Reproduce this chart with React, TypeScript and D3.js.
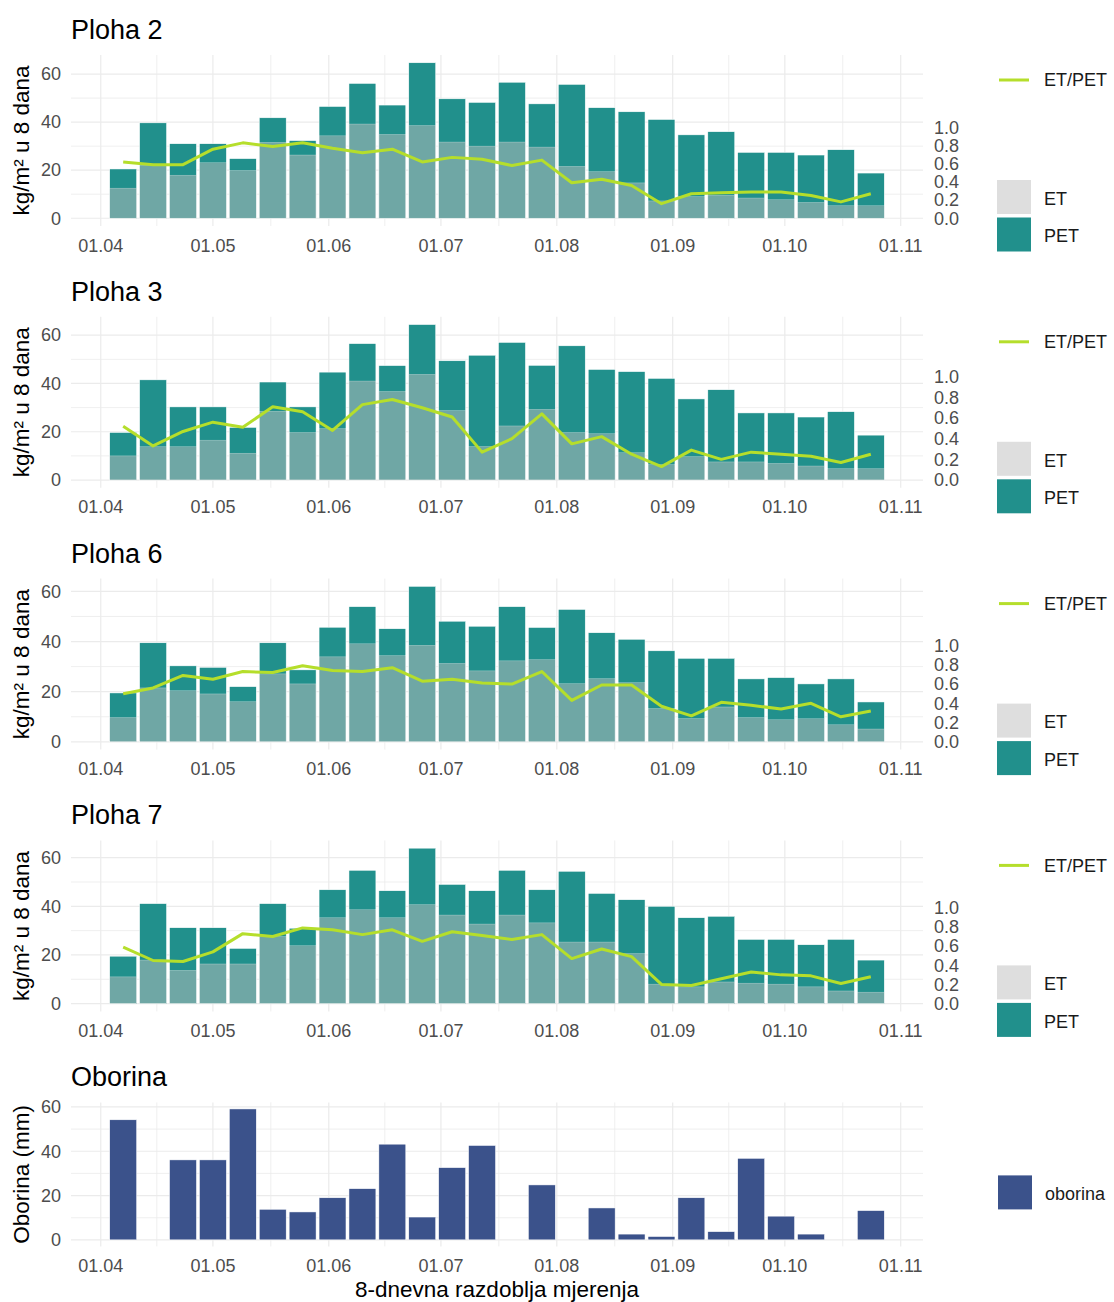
import React, { useEffect, useRef } from 'react'
import * as d3 from 'd3'

// 8-day measurement periods (start dates)
const periodDates = [
    '2021-04-07', '2021-04-15', '2021-04-23', '2021-05-01', '2021-05-09', '2021-05-17',
    '2021-05-25', '2021-06-02', '2021-06-10', '2021-06-18', '2021-06-26', '2021-07-04',
    '2021-07-12', '2021-07-20', '2021-07-28', '2021-08-05', '2021-08-13', '2021-08-21',
    '2021-08-29', '2021-09-06', '2021-09-14', '2021-09-22', '2021-09-30', '2021-10-08',
    '2021-10-16', '2021-10-24',
]

const ploha2Pet = [20.5, 39.7, 31.0, 31.0, 24.8, 41.8, 32.3, 46.5, 56.1, 47.1, 64.7, 49.7, 48.2, 56.6, 47.6, 55.7, 46.0, 44.3, 41.1, 34.7, 36.0, 27.4, 27.4, 26.3, 28.5, 18.8]
const ploha2Et = [12.5, 22.1, 17.9, 23.1, 19.9, 31.6, 26.3, 34.3, 39.2, 34.9, 38.6, 31.7, 30.0, 31.7, 29.6, 21.6, 19.4, 14.7, 7.2, 9.0, 9.6, 8.4, 7.7, 6.6, 5.2, 5.2]
const ploha2Ratio = [0.62, 0.59, 0.59, 0.76, 0.83, 0.79, 0.83, 0.77, 0.72, 0.76, 0.62, 0.67, 0.65, 0.58, 0.64, 0.39, 0.43, 0.36, 0.16, 0.27, 0.28, 0.29, 0.29, 0.25, 0.18, 0.27]

const ploha3Pet = [19.7, 41.5, 30.3, 30.3, 21.8, 40.6, 30.3, 44.7, 56.5, 47.4, 64.4, 49.4, 51.7, 57.0, 47.5, 55.6, 45.8, 44.9, 42.1, 33.6, 37.4, 27.8, 27.8, 26.1, 28.3, 18.6]
const ploha3Et = [10.0, 13.8, 13.8, 16.5, 11.1, 28.5, 19.7, 21.3, 41.0, 36.7, 43.8, 28.8, 13.9, 22.4, 29.3, 19.7, 19.2, 11.3, 6.4, 9.7, 7.5, 7.5, 6.9, 5.8, 4.7, 4.7]
const ploha3Ratio = [0.52, 0.33, 0.47, 0.56, 0.51, 0.71, 0.66, 0.48, 0.73, 0.78, 0.70, 0.61, 0.27, 0.40, 0.64, 0.35, 0.42, 0.25, 0.13, 0.29, 0.20, 0.27, 0.25, 0.23, 0.17, 0.25]

const ploha6Pet = [19.5, 39.5, 30.3, 29.7, 22.0, 39.5, 28.7, 45.7, 53.9, 45.1, 62.0, 48.1, 46.1, 53.9, 45.6, 52.8, 43.5, 40.9, 36.3, 33.3, 33.3, 25.1, 25.6, 23.1, 25.1, 15.9]
const ploha6Et = [9.7, 21.5, 20.4, 19.1, 16.0, 27.1, 23.1, 33.9, 39.1, 34.4, 38.5, 31.3, 28.3, 32.3, 32.8, 23.2, 25.2, 23.6, 13.3, 9.3, 13.9, 9.7, 8.8, 9.2, 6.8, 5.1]
const ploha6Ratio = [0.50, 0.56, 0.69, 0.65, 0.73, 0.72, 0.79, 0.74, 0.73, 0.77, 0.63, 0.65, 0.61, 0.60, 0.73, 0.43, 0.59, 0.59, 0.37, 0.27, 0.41, 0.38, 0.34, 0.40, 0.26, 0.32]

const ploha7Pet = [19.5, 41.1, 31.2, 31.2, 22.7, 41.1, 31.0, 46.8, 54.8, 46.4, 63.9, 49.0, 46.4, 54.8, 46.8, 54.4, 45.3, 42.7, 40.0, 35.3, 35.9, 26.4, 26.4, 24.2, 26.4, 17.9]
const ploha7Et = [11.0, 17.9, 13.7, 16.3, 16.3, 27.6, 23.8, 35.3, 38.6, 35.3, 40.7, 36.4, 32.7, 36.4, 33.2, 25.3, 25.3, 20.6, 8.0, 6.9, 8.9, 8.4, 8.0, 6.9, 5.2, 4.7]
const ploha7Ratio = [0.59, 0.45, 0.44, 0.54, 0.73, 0.70, 0.79, 0.77, 0.72, 0.77, 0.65, 0.75, 0.71, 0.67, 0.72, 0.47, 0.57, 0.49, 0.20, 0.19, 0.26, 0.33, 0.30, 0.29, 0.21, 0.28]

const oborina = [54.2, 0, 36.1, 36.1, 59.1, 13.8, 12.6, 19.0, 23.1, 43.2, 10.3, 32.6, 42.6, 0, 24.8, 0, 14.4, 2.6, 1.5, 19.0, 3.7, 36.8, 10.7, 2.6, 0, 13.2]

const yTicks = [0, 20, 40, 60]
const yMinorTicks = [10, 30, 50]
const ratioTicks = [0, 0.2, 0.4, 0.6, 0.8, 1.0]

// Ploha panels: title, series, and the factor of the secondary (ET/PET) axis
const plohe = [
    { title: 'Ploha 2', pet: ploha2Pet, et: ploha2Et, ratio: ploha2Ratio, k: 37.8 },
    { title: 'Ploha 3', pet: ploha3Pet, et: ploha3Et, ratio: ploha3Ratio, k: 42.8 },
    { title: 'Ploha 6', pet: ploha6Pet, et: ploha6Et, ratio: ploha6Ratio, k: 38.4 },
    { title: 'Ploha 7', pet: ploha7Pet, et: ploha7Et, ratio: ploha7Ratio, k: 39.4 },
]

const FONT = '"Liberation Sans", Arial, sans-serif'
const PET_COLOR = '#21908C'
const ET_COLOR = '#BEBEBE'
const LINE_COLOR = '#B5DE2B'
const OBORINA_COLOR = '#3B528B'
const GRID = '#EBEBEB'
const AXIS_TEXT = '#4D4D4D'

const svgWidth = 1114
const svgHeight = 1302
const left = 71
const right = 923
const panelHeight = 171
const panelStep = 261.8
const firstTop = 55

const DAY = 864e5

function App() {
    const ref = useRef(null)

    useEffect(() => {
        const svg = d3.select(ref.current)
        svg.selectAll('*').remove()

        const parse = d3.utcParse('%Y-%m-%d')
        const dates = periodDates.map(parse)
        const halfBar = 3.6 * DAY

        // date axis like ggplot: bar extents + 5% expansion
        const lo = +dates[0] - halfBar
        const hi = +dates[dates.length - 1] + halfBar
        const pad = (hi - lo) * 0.05
        const x = d3.scaleUtc().domain([lo - pad, hi + pad]).range([left, right])
        const barW = x(new Date(+dates[0] + 2 * halfBar)) - x(dates[0])

        const months = d3.utcMonth.range(new Date(Date.UTC(2021, 3, 1)), new Date(Date.UTC(2021, 10, 2)))
        const midMonths = months.slice(1).map((m, i) => new Date((+m + +months[i]) / 2))
        const fmt = d3.utcFormat('%d.%m')

        function drawPanel(top, height, values) {
            const max = d3.max(values)
            const y = d3.scaleLinear()
                .domain([-0.05 * max, 1.05 * max])
                .range([top + height, top])
            const g = svg.append('g')

            // grid
            g.selectAll('.hminor').data(yMinorTicks).enter().append('line')
                .attr('x1', left).attr('x2', right)
                .attr('y1', d => y(d)).attr('y2', d => y(d))
                .attr('stroke', GRID).attr('stroke-width', 0.8)
            g.selectAll('.vminor').data(midMonths).enter().append('line')
                .attr('x1', d => x(d)).attr('x2', d => x(d))
                .attr('y1', top).attr('y2', top + height)
                .attr('stroke', GRID).attr('stroke-width', 0.8)
            g.selectAll('.hmajor').data(yTicks).enter().append('line')
                .attr('x1', left).attr('x2', right)
                .attr('y1', d => y(d)).attr('y2', d => y(d))
                .attr('stroke', GRID).attr('stroke-width', 1.2)
            g.selectAll('.vmajor').data(months).enter().append('line')
                .attr('x1', d => x(d)).attr('x2', d => x(d))
                .attr('y1', top).attr('y2', top + height)
                .attr('stroke', GRID).attr('stroke-width', 1.2)

            // axis labels
            g.selectAll('.ylab').data(yTicks).enter().append('text')
                .attr('x', left - 10).attr('y', d => y(d)).attr('dy', '0.35em')
                .attr('text-anchor', 'end')
                .attr('font-family', FONT).attr('font-size', 18).attr('fill', AXIS_TEXT)
                .text(d => d)
            g.selectAll('.xlab').data(months).enter().append('text')
                .attr('x', d => x(d)).attr('y', top + height + 25.5)
                .attr('text-anchor', 'middle')
                .attr('font-family', FONT).attr('font-size', 18).attr('fill', AXIS_TEXT)
                .text(d => fmt(d))
            return { g, y }
        }

        function title(text, top) {
            svg.append('text')
                .attr('x', left).attr('y', top - 16)
                .attr('font-family', FONT).attr('font-size', 27).attr('fill', '#000')
                .text(text)
        }

        function yTitle(text, top, height) {
            svg.append('text')
                .attr('transform', `translate(29, ${top + height / 2}) rotate(-90)`)
                .attr('text-anchor', 'middle')
                .attr('font-family', FONT).attr('font-size', 22.5).attr('fill', '#000')
                .text(text)
        }

        function legendText(text, xPos, yPos) {
            svg.append('text')
                .attr('x', xPos).attr('y', yPos).attr('dy', '0.35em')
                .attr('font-family', FONT).attr('font-size', 18).attr('fill', '#1A1A1A')
                .text(text)
        }

        plohe.forEach((p, i) => {
            const top = firstTop + i * panelStep
            const { g, y } = drawPanel(top, panelHeight, p.pet)

            // PET bars
            g.selectAll('.pet').data(p.pet).enter().append('rect')
                .attr('x', (d, j) => x(dates[j]) - barW / 2)
                .attr('width', barW)
                .attr('y', d => y(d))
                .attr('height', d => y(0) - y(d))
                .attr('fill', PET_COLOR)
                .attr('stroke', '#fff').attr('stroke-width', 0.5)
            // ET bars on top, semi-transparent
            g.selectAll('.et').data(p.et).enter().append('rect')
                .attr('x', (d, j) => x(dates[j]) - barW / 2)
                .attr('width', barW)
                .attr('y', d => y(d))
                .attr('height', d => y(0) - y(d))
                .attr('fill', ET_COLOR).attr('fill-opacity', 0.5)
                .attr('stroke', '#fff').attr('stroke-width', 0.5).attr('stroke-opacity', 0.5)

            // ET/PET line on secondary axis
            const line = d3.line()
                .x((d, j) => x(dates[j]))
                .y(d => y(d * p.k))
            g.append('path')
                .attr('d', line(p.ratio))
                .attr('fill', 'none')
                .attr('stroke', LINE_COLOR).attr('stroke-width', 3)
                .attr('stroke-linejoin', 'round')

            // secondary axis labels
            g.selectAll('.rlab').data(ratioTicks).enter().append('text')
                .attr('x', right + 11).attr('y', d => y(d * p.k)).attr('dy', '0.35em')
                .attr('font-family', FONT).attr('font-size', 18).attr('fill', AXIS_TEXT)
                .text(d => d.toFixed(1))

            title(p.title, top)
            yTitle('kg/m² u 8 dana', top, panelHeight)

            // legends
            svg.append('line')
                .attr('x1', 999).attr('x2', 1029)
                .attr('y1', top + 25).attr('y2', top + 25)
                .attr('stroke', LINE_COLOR).attr('stroke-width', 3)
            legendText('ET/PET', 1044, top + 25)
            svg.append('rect')
                .attr('x', 997).attr('y', top + 125).attr('width', 34).attr('height', 34)
                .attr('fill', ET_COLOR).attr('fill-opacity', 0.5)
            legendText('ET', 1044, top + 143.5)
            svg.append('rect')
                .attr('x', 997).attr('y', top + 162.5).attr('width', 34).attr('height', 34)
                .attr('fill', PET_COLOR)
            legendText('PET', 1044, top + 181)
        })

        // Oborina panel
        const oTop = 1102.4
        const oHeight = 144
        const { g, y } = drawPanel(oTop, oHeight, oborina)
        const oborinaBars = oborina
            .map((v, j) => ({ date: dates[j], value: v }))
            .filter(d => d.value > 0)
        g.selectAll('.obor').data(oborinaBars).enter().append('rect')
            .attr('x', d => x(d.date) - barW / 2)
            .attr('width', barW)
            .attr('y', d => y(d.value))
            .attr('height', d => y(0) - y(d.value))
            .attr('fill', OBORINA_COLOR)
            .attr('stroke', '#fff').attr('stroke-width', 0.5)
        title('Oborina', oTop)
        yTitle('Oborina (mm)', oTop, oHeight)
        svg.append('rect')
            .attr('x', 998).attr('y', oTop + 73).attr('width', 34).attr('height', 34)
            .attr('fill', OBORINA_COLOR)
        legendText('oborina', 1045, oTop + 91)

        svg.append('text')
            .attr('x', (left + right) / 2).attr('y', 1297)
            .attr('text-anchor', 'middle')
            .attr('font-family', FONT).attr('font-size', 22.5).attr('fill', '#000')
            .text('8-dnevna razdoblja mjerenja')
    }, [])

    return (
        <div style={{ position: 'absolute', left: 0, top: 0, background: '#fff' }}>
            <svg ref={ref} width={svgWidth} height={svgHeight} style={{ display: 'block' }} />
        </div>
    )
}

export default App
